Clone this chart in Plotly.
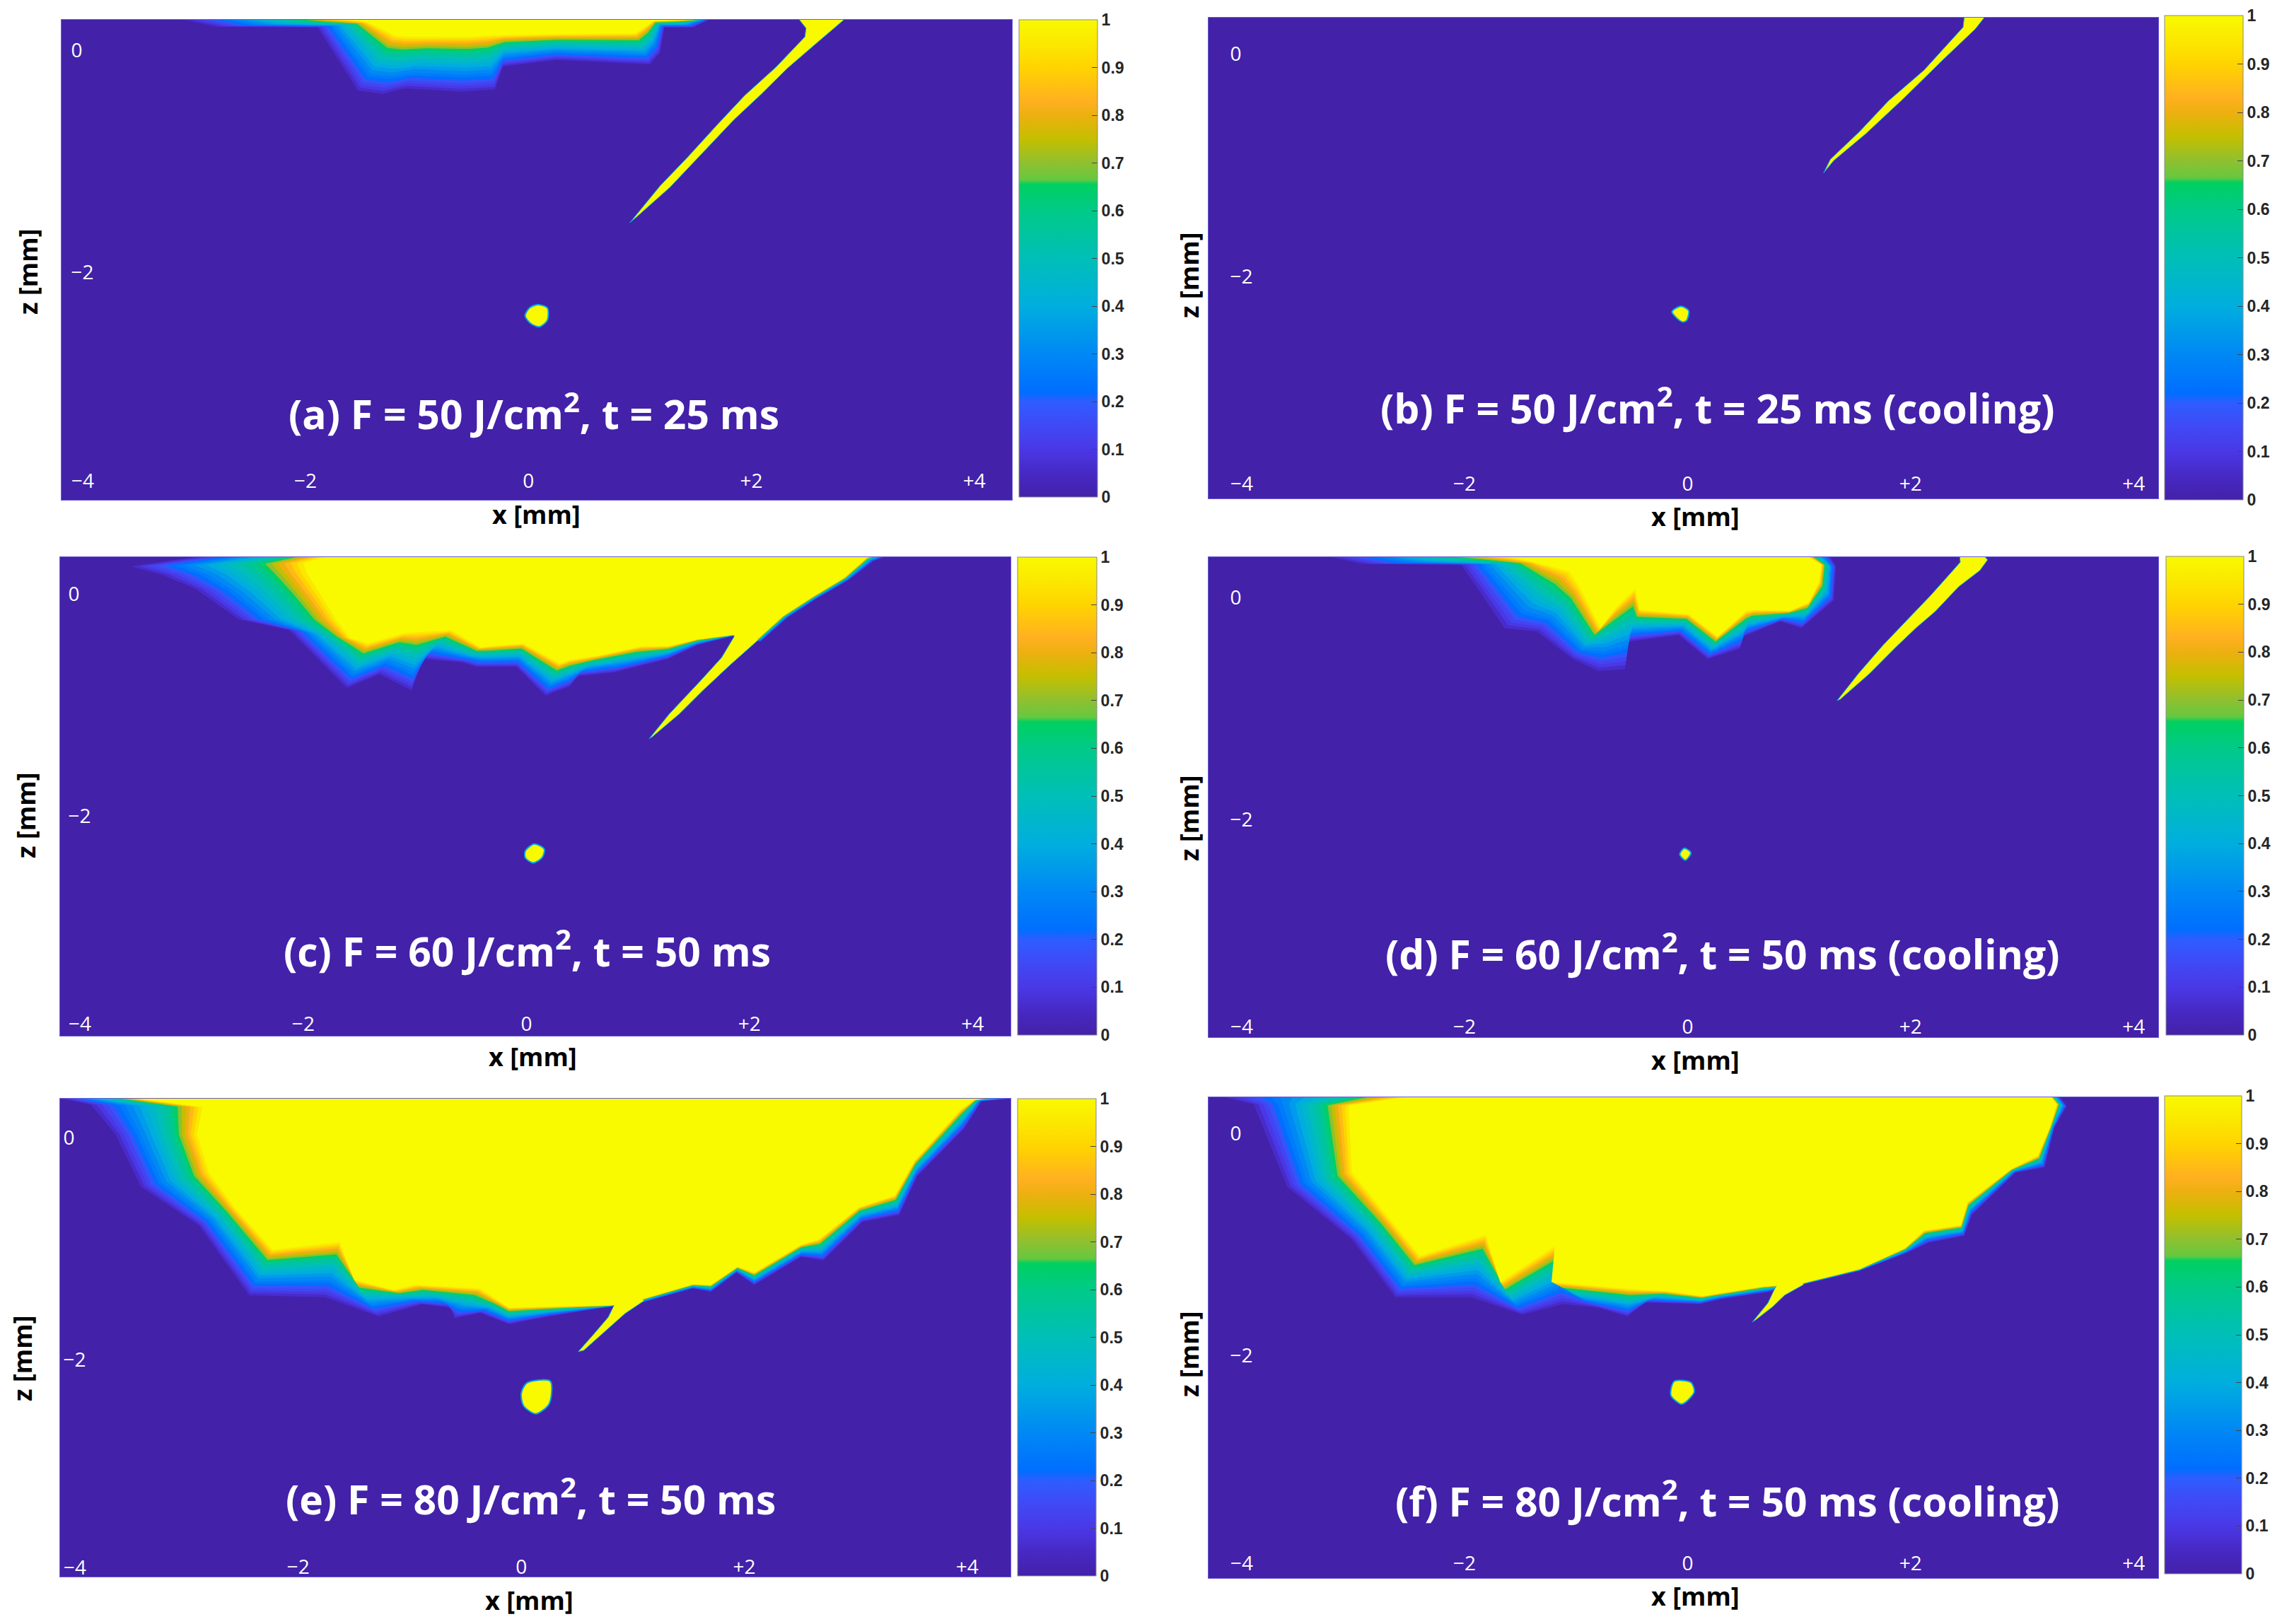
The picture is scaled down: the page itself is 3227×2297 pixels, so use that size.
import numpy as np
import plotly.graph_objects as go

W, H = 3227, 2297
BG = "#4321A9"
YELLOW = "#F9F900"
RIM = "#00A6E6"

# colour scale
SCALE_POS = [0, .05, .1, .15, .2, .22, .3, .4, .5, .6, .655, .665, .7, .75, .8, .83, .9, .95, 1]
SCALE_COL = ["#4321A9", "#4729C4", "#4A38E6", "#4049F5", "#2E5DFF", "#006EFF", "#0088F5", "#00AEDE",
             "#00BFB8", "#00CA88", "#00D060", "#66C840", "#8FC030", "#C4BF00", "#EDB010", "#FFB020",
             "#FFD400", "#FBE800", "#F9F900"]
BAND_LEVELS = [.06, .1, .14, .18, .22, .26, .3, .35, .4, .45, .5, .55, .6, .65, .7, .75, .8, .85, .9, .95, 1]
CB_TICKS = [0, .1, .2, .3, .4, .5, .6, .7, .8, .9, 1]
CB_TEXT = ["0", "0.1", "0.2", "0.3", "0.4", "0.5", "0.6", "0.7", "0.8", "0.9", "1"]
X_TICKS = [-2, 0, 2, 4]
X_TEXT = ["\u22122", "0", "+2", "+4"]
X_FIRST = -4
X_FIRST_TEXT = "\u22124"
Z_TICKS = [0, -2]
Z_TEXT = ["0", "\u22122"]

LABELS = {
    "a": "(a) F = 50 J/cm<sup>2</sup>, t = 25 ms",
    "b": "(b) F = 50 J/cm<sup>2</sup>, t = 25 ms (cooling)",
    "c": "(c) F = 60 J/cm<sup>2</sup>, t = 50 ms",
    "d": "(d) F = 60 J/cm<sup>2</sup>, t = 50 ms (cooling)",
    "e": "(e) F = 80 J/cm<sup>2</sup>, t = 50 ms",
    "f": "(f) F = 80 J/cm<sup>2</sup>, t = 50 ms (cooling)",
}

# melt pool outlines, mm: outer = faint violet edge, inner = full-yellow edge
A_OUTER_X = [-3.09,-2.80,-1.89,-1.53,-1.31,-1.11,-.60,-.30,-.23,.25,1.09,1.18,1.22,1.48,1.62]
A_OUTER_Z = [.278,.216,.21,-.36,-.39,-.34,-.37,-.35,-.145,-.083,-.124,-.02,.21,.21,.278]
A_INNER_X = [-1.70,-1.53,-1.44,-1.19,-1.08,-.85,-.53,-.39,-.21,.25,.96,1.04,1.12,1.28,1.48]
A_INNER_Z = [.278,.272,.253,.133,.124,.124,.124,.133,.139,.148,.155,.21,.266,.272,.278]
A_CRACK_X = [2.43,2.49,2.48,2.22,1.94,1.69,1.43,1.18,.91,.97,1.27,1.58,1.84,2.09,2.32,2.57,2.83]
A_CRACK_Z = [.278,.202,.125,-.149,-.404,-.672,-.958,-1.22,-1.551,-1.50,-1.232,-.901,-.627,-.391,-.162,.055,.278]
A_SPOT_X = [.08,.17,.17,.10,.02,-.03,.01]
A_SPOT_Z = [-2.29,-2.32,-2.43,-2.49,-2.46,-2.39,-2.32]

B_CRACK_X = [2.48,2.47,2.12,1.80,1.54,1.28,1.22,1.31,1.60,1.93,2.29,2.58,2.66]
B_CRACK_Z = [.327,.241,-.145,-.423,-.70,-.948,-1.07,-.96,-.716,-.407,-.052,.225,.327]
B_SPOT_X = [-.06,.01,-.01,-.05,-.14]
B_SPOT_Z = [-2.27,-2.31,-2.40,-2.41,-2.32]

C_OUTER_X = [-2.97,-3.55,-3.26,-2.97,-2.58,-2.13,-1.61,-1.32,-1.03,-.93,-.58,-.45,-.09,.17,.39,.46,.78,1.27,1.53,1.85,2.10,2.34,2.60,2.89,3.11,3.21]
C_OUTER_Z = [.33,.247,.17,.046,-.231,-.324,-.849,-.725,-.87,-.586,-.617,-.657,-.657,-.917,-.833,-.741,-.71,-.586,-.463,-.38,-.43,-.216,-.046,.123,.293,.33]
C_INNER_X = [-1.81,-2.00,-1.97,-1.84,-1.71,-1.58,-1.42,-1.09,-.97,-.67,-.41,-.32,-.03,.30,.39,.65,1.04,1.27,1.53,1.85,2.08,2.30,2.56,2.85,3.05,3.07]
C_INNER_Z = [.33,.278,.185,-.015,-.231,-.401,-.448,-.355,-.345,-.33,-.485,-.472,-.448,-.627,-.596,-.556,-.472,-.472,-.41,-.37,-.40,-.20,-.031,.145,.324,.33]
C_CRACK_X = [1.86,1.75,1.56,1.28,1.10,1.13,1.37,1.58,1.83,2.08]
C_CRACK_Z = [-.389,-.574,-.784,-1.083,-1.306,-1.287,-1.083,-.873,-.638,-.415]
C_ROOT = (1.95, -.2)
C_SPOT_X = [.07,.16,.14,.06,-.01,-.01]
C_SPOT_Z = [-2.253,-2.30,-2.377,-2.423,-2.377,-2.315]

D_OUTER_X = [-3.20,-2.91,-2.03,-1.64,-1.35,-1.03,-.80,-.56,-.54,-.08,.18,.47,.50,.83,1.02,1.31,1.33,1.28]
D_OUTER_Z = [.361,.299,.293,-.278,-.309,-.556,-.664,-.648,-.401,-.34,-.556,-.463,-.355,-.216,-.278,-.031,.278,.361]
D_INNER_X = [-1.74,-1.55,-1.35,-1.06,-.96,-.78,-.64,-.47,-.43,.01,.27,.53,.60,.92,1.09,1.18,1.20,1.09]
D_INNER_Z = [.361,.355,.309,.231,.077,-.278,-.093,.077,-.114,-.154,-.355,-.123,-.114,-.123,-.046,.139,.293,.361]
D_CRACK_X = [2.44,2.445,2.35,2.18,2.01,1.75,1.53,1.34,1.37,1.63,1.87,2.05,2.22,2.43,2.62,2.69,2.67]
D_CRACK_Z = [.361,.316,.208,.017,-.161,-.434,-.689,-.931,-.918,-.689,-.447,-.275,-.129,.094,.24,.336,.361]
D_SPOT_X = [-.03,.03,-.02,-.07]
D_SPOT_Z = [-2.259,-2.30,-2.367,-2.315]

E_OUTER_X = [-4.12,-3.86,-3.64,-3.41,-2.89,-2.44,-1.76,-1.28,-.89,-.63,-.60,-.37,-.11,.25,.73,1.09,1.54,1.70,1.93,2.09,2.51,2.71,3.06,3.39,3.55,3.97,4.13,4.39]
E_OUTER_Z = [.354,.30,.032,-.442,-.79,-1.422,-1.438,-1.611,-1.501,-1.532,-1.627,-1.58,-1.681,-1.611,-1.532,-1.485,-1.359,-1.39,-1.216,-1.327,-1.074,-1.106,-.758,-.695,-.348,.079,.332,.354]
E_INNER_X = [-3.44,-2.86,-2.91,-2.80,-2.57,-2.23,-1.63,-1.50,-1.15,-.95,-.37,-.21,-.11,.25,.82,1.09,1.54,1.70,1.94,2.09,2.51,2.67,3.03,3.35,3.53,3.94,4.06,4.12]
E_INNER_Z = [.354,.278,.032,-.316,-.632,-1.011,-.942,-1.28,-1.374,-1.327,-1.359,-1.469,-1.532,-1.523,-1.51,-1.453,-1.321,-1.327,-1.163,-1.216,-.964,-.916,-.626,-.521,-.205,.253,.341,.354]
E_CRACK_X = [.82,.78,.65,.51,.56,.72,.93,1.10]
E_CRACK_Z = [-1.535,-1.618,-1.771,-1.93,-1.918,-1.777,-1.586,-1.471]
E_ROOT = (.95, -1.3)
E_SPOT_X = [.05,.26,.25,.13,.02,0]
E_SPOT_Z = [-2.212,-2.196,-2.401,-2.49,-2.417,-2.306]

F_OUTER_X = [-4.15,-3.89,-3.59,-3.01,-2.62,-1.94,-1.48,-1.12,-.80,-.54,-.38,.11,.31,.73,1.02,1.54,1.96,2.16,2.48,2.55,2.94,3.20,3.29,3.40,3.34]
F_OUTER_Z = [.325,.262,-.479,-.953,-1.473,-1.473,-1.631,-1.536,-1.568,-1.647,-1.521,-1.536,-1.489,-1.426,-1.363,-1.237,-1.079,-.984,-.921,-.732,-.353,-.306,.057,.246,.325]
F_INNER_X = [-2.52,-3.04,-3.01,-2.68,-2.40,-1.81,-1.68,-1.19,-1.22,-.51,-.18,.13,.27,.66,1.02,1.54,1.95,2.12,2.45,2.51,2.90,3.14,3.25,3.31,3.26]
F_INNER_Z = [.325,.252,-.353,-.763,-1.104,-.915,-1.338,-1.016,-1.338,-1.401,-1.42,-1.464,-1.442,-1.379,-1.35,-1.221,-1.032,-.874,-.826,-.621,-.322,-.202,.057,.262,.325]
F_CRACK_X = [.765,.72,.58,.61,.765,.87,1.04]
F_CRACK_Z = [-1.431,-1.526,-1.698,-1.679,-1.558,-1.456,-1.361]
F_ROOT = (.9, -1.2)
F_SPOT_X = [-.12,.03,.06,-.02,-.06,-.15]
F_SPOT_Z = [-2.23,-2.24,-2.325,-2.42,-2.435,-2.356]

PANELS = {
    # box/colour bar in page pixels, axis ranges in mm, text centres in page pixels,
    # xgap/zgap: distance of the tick labels from the bottom and left edges
    "a": dict(box=(87,1431,28,707), cb=(1441,1552,28,703), xr=(-4.188,4.337), zr=(-4.05,.278), lab=(755,582), xt=(758,727), zt=(40,385), xgap=28, zgap=23, root=None,
              outer=(A_OUTER_X,A_OUTER_Z), inner=(A_INNER_X,A_INNER_Z), crack=(A_CRACK_X,A_CRACK_Z), spot=(A_SPOT_X,A_SPOT_Z)),
    "b": dict(box=(1709,3052,25,705), cb=(3061,3172,22,707), xr=(-4.295,4.22), zr=(-4.00,.327), lab=(2429,574), xt=(2397,731), zt=(1681,390), xgap=22, zgap=40, root=None,
              outer=None, inner=None, crack=(B_CRACK_X,B_CRACK_Z), spot=(B_SPOT_X,B_SPOT_Z)),
    "c": dict(box=(85,1429,788,1465), cb=(1439,1551,788,1464), xr=(-4.18,4.34), zr=(-3.98,.33), lab=(745,1342), xt=(753,1494), zt=(36,1154), xgap=18, zgap=21, root=C_ROOT,
              outer=(C_OUTER_X,C_OUTER_Z), inner=(C_INNER_X,C_INNER_Z), crack=(C_CRACK_X,C_CRACK_Z), spot=(C_SPOT_X,C_SPOT_Z)),
    "d": dict(box=(1709,3052,788,1467), cb=(3063,3173,787,1464), xr=(-4.295,4.22), zr=(-3.96,.361), lab=(2436,1346), xt=(2397,1499), zt=(1681,1158), xgap=16, zgap=40, root=None,
              outer=(D_OUTER_X,D_OUTER_Z), inner=(D_INNER_X,D_INNER_Z), crack=(D_CRACK_X,D_CRACK_Z), spot=(D_SPOT_X,D_SPOT_Z)),
    "e": dict(box=(85,1429,1554,2230), cb=(1439,1550,1554,2229), xr=(-4.136,4.388), zr=(-3.96,.354), lab=(750,2117), xt=(748,2263), zt=(31,1922), xgap=14, zgap=14, root=E_ROOT,
              outer=(E_OUTER_X,E_OUTER_Z), inner=(E_INNER_X,E_INNER_Z), crack=(E_CRACK_X,E_CRACK_Z), spot=(E_SPOT_X,E_SPOT_Z)),
    "f": dict(box=(1709,3052,1552,2232), cb=(3061,3170,1550,2226), xr=(-4.295,4.22), zr=(-4.00,.325), lab=(2443,2120), xt=(2397,2257), zt=(1681,1916), xgap=22, zgap=40, root=F_ROOT,
              outer=(F_OUTER_X,F_OUTER_Z), inner=(F_INNER_X,F_INNER_Z), crack=(F_CRACK_X,F_CRACK_Z), spot=(F_SPOT_X,F_SPOT_Z)),
}

RGB = np.array([[int(c[i:i+2], 16) for i in (1, 3, 5)] for c in SCALE_COL], float)
COLORSCALE = [[p, c] for p, c in zip(SCALE_POS, SCALE_COL)]
TICK_FONT = dict(family="Open Sans", size=28, color="white")
TITLE_FONT = dict(family="Open Sans", size=36, color="black", weight="bold")


def level_colour(v):
    r, g, b = (np.interp(v, SCALE_POS, RGB[:, k]) for k in range(3))
    return f"rgb({r:.0f},{g:.0f},{b:.0f})"


def band_position(v):
    """Share of the way from the outer to the inner outline at which a level sits."""
    return np.interp(v, [BAND_LEVELS[0], .62, 1], [0, .72, 1])


fig = go.Figure()
layout = {}
notes = []

for i, (key, p) in enumerate(PANELS.items(), start=1):
    sfx = "" if i == 1 else str(i)
    xa, ya = f"x{sfx}", f"y{sfx}"
    L, R, T, B = p["box"]
    cl, cr, ct, cb = p["cb"]

    layout[f"xaxis{sfx}"] = dict(
        domain=[L / W, R / W], range=list(p["xr"]), anchor=ya, tickmode="array", tickvals=X_TICKS, ticktext=X_TEXT,
        ticks="inside", ticklen=max(p["xgap"] - 14, 1), tickcolor="rgba(0,0,0,0)", ticklabelposition="inside",
        tickfont=TICK_FONT, showgrid=False, zeroline=False,
        showline=True, mirror=True, linecolor="#6A5CD6", linewidth=1)
    layout[f"yaxis{sfx}"] = dict(
        domain=[1 - B / H, 1 - T / H], range=list(p["zr"]), anchor=xa, tickmode="array", tickvals=Z_TICKS, ticktext=Z_TEXT,
        ticks="inside", ticklen=max(p["zgap"] - 7, 1), tickcolor="rgba(0,0,0,0)", ticklabelposition="inside",
        tickfont=TICK_FONT, showgrid=False, zeroline=False,
        showline=True, mirror=True, linecolor="#6A5CD6", linewidth=1)

    fig.add_trace(go.Heatmap(
        x=list(p["xr"]), y=list(p["zr"]), z=[[0, 0], [0, 0]], xaxis=xa, yaxis=ya,
        colorscale=COLORSCALE, zmin=0, zmax=1, hoverinfo="skip",
        colorbar=dict(
            x=cl / W, xanchor="left", xpad=0, y=1 - (ct + cb) / 2 / H, yanchor="middle", ypad=0,
            thicknessmode="pixels", thickness=cr - cl, lenmode="pixels", len=cb - ct,
            outlinecolor="#8A8A8A", outlinewidth=1, tickmode="array", tickvals=CB_TICKS, ticktext=CB_TEXT,
            ticks="inside", ticklen=8, tickcolor="#444444",
            tickfont=dict(family="Liberation Sans", size=23, color="#262626", weight="bold"))))

    if p["outer"] is not None:
        ox, oz = map(np.array, p["outer"])
        ix, iz = map(np.array, p["inner"])
        for v in BAND_LEVELS:
            t = band_position(v)
            fig.add_trace(go.Scatter(
                x=ox + (ix - ox) * t, y=oz + (iz - oz) * t, xaxis=xa, yaxis=ya, mode="lines", fill="toself",
                fillcolor=level_colour(v), line=dict(width=0), hoverinfo="skip", showlegend=False))

    # crack: filled without an edge (reaching into the pool if it joins it), then its two long sides are rimmed
    cx, cz = p["crack"]
    rx, rz = ([p["root"][0]], [p["root"][1]]) if p["root"] else ([], [])
    fig.add_trace(go.Scatter(
        x=cx + rx, y=cz + rz, xaxis=xa, yaxis=ya, mode="lines", fill="toself", fillcolor=YELLOW,
        line=dict(width=0), hoverinfo="skip", showlegend=False))
    fig.add_trace(go.Scatter(
        x=cx, y=cz, xaxis=xa, yaxis=ya, mode="lines",
        line=dict(width=1, color=RIM), hoverinfo="skip", showlegend=False))

    sx, sz = p["spot"]
    fig.add_trace(go.Scatter(
        x=sx + sx[:1], y=sz + sz[:1], xaxis=xa, yaxis=ya, mode="lines", fill="toself", fillcolor=YELLOW,
        line=dict(width=2, color=RIM, shape="spline", smoothing=0.8), hoverinfo="skip", showlegend=False))

    notes.append(dict(text=X_FIRST_TEXT, x=X_FIRST, xref=xa, y=1 - (B - p["xgap"]) / H, yref="paper",
                      showarrow=False, xanchor="center", yanchor="middle", font=TICK_FONT))
    notes.append(dict(text=LABELS[key], x=p["lab"][0] / W, y=1 - p["lab"][1] / H, xref="paper", yref="paper",
                      showarrow=False, xanchor="center", yanchor="middle",
                      font=dict(family="Open Sans", size=57, color="white", weight="bold")))
    notes.append(dict(text="x [mm]", x=p["xt"][0] / W, y=1 - p["xt"][1] / H, xref="paper", yref="paper",
                      showarrow=False, xanchor="center", yanchor="middle", font=TITLE_FONT))
    notes.append(dict(text="z [mm]", x=p["zt"][0] / W, y=1 - p["zt"][1] / H, xref="paper", yref="paper",
                      showarrow=False, xanchor="center", yanchor="middle", textangle=-90, font=TITLE_FONT))

fig.update_layout(width=W, height=H, autosize=False, showlegend=False, paper_bgcolor="white", plot_bgcolor=BG,
                  margin=dict(l=0, r=0, t=0, b=0, pad=0, autoexpand=False), annotations=notes, **layout)

fig.write_html("out.html", config=dict(responsive=False, displayModeBar=False),
               post_script="document.body.style.margin='0';")
